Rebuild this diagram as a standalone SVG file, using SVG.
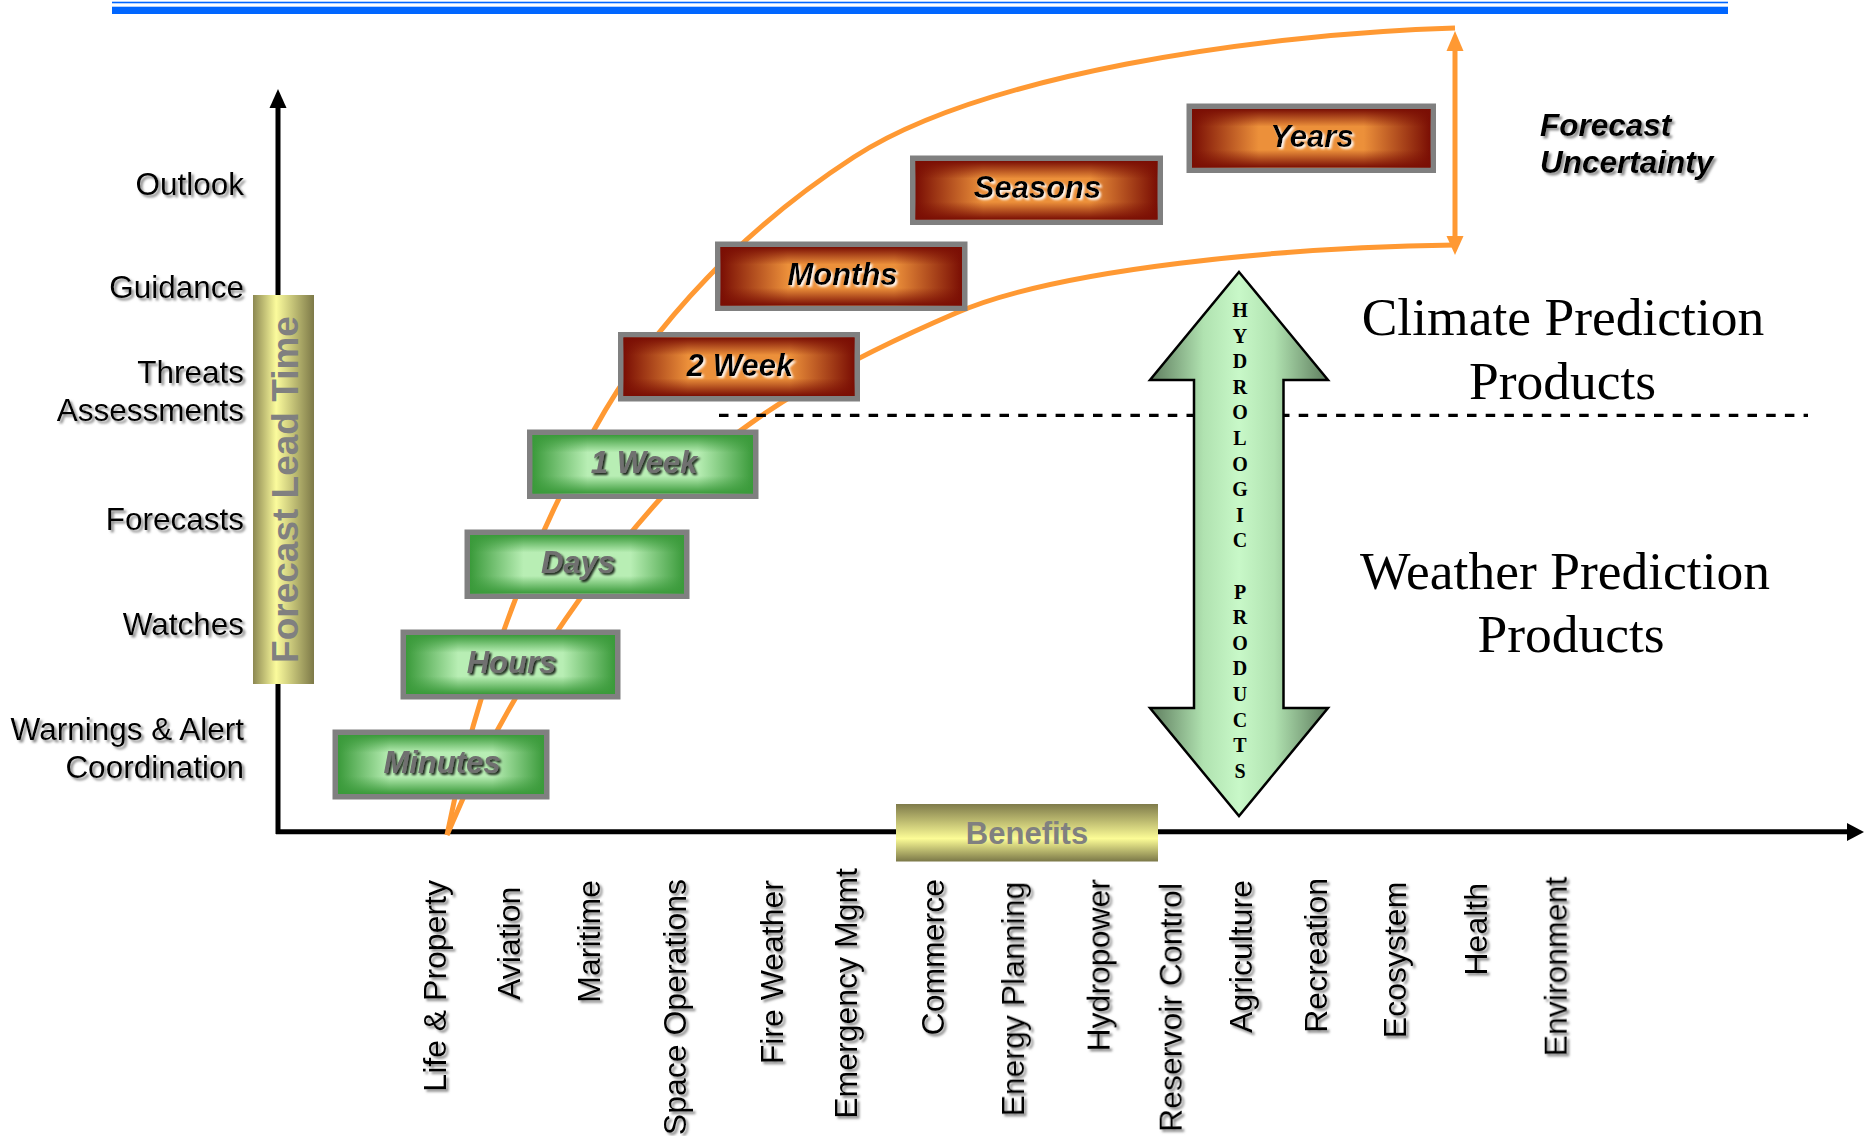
<svg xmlns="http://www.w3.org/2000/svg" width="1864" height="1136" viewBox="0 0 1864 1136">
<defs>
<style>
.lbl{font-family:"Liberation Sans",Arial,sans-serif;font-size:31.5px;fill:#000;text-anchor:end}
.xl{font-family:"Liberation Sans",Arial,sans-serif;font-size:32px;fill:#000;text-anchor:end}
.bt{font-family:"Liberation Sans",Arial,sans-serif;font-size:31px;font-weight:bold;font-style:italic;text-anchor:middle}
.gt{fill:#6f6f6f}
.ot{fill:#000}
.frame{fill:#808080}
.curve{fill:none;stroke:#ff9933;stroke-width:5}
.ser{font-family:"Liberation Serif","Times New Roman",serif;font-size:53.5px;fill:#000;text-anchor:middle}
.hyd{font-family:"Liberation Serif","Times New Roman",serif;font-size:20px;font-weight:bold;fill:#000;text-anchor:middle}
.fu{font-family:"Liberation Sans",Arial,sans-serif;font-size:31.5px;font-weight:bold;font-style:italic;fill:#000}
</style>
<linearGradient id="gH" x1="0" y1="0" x2="1" y2="0">
<stop offset="0" stop-color="#3a9a3a"/><stop offset="0.25" stop-color="#b8eeb4"/><stop offset="0.75" stop-color="#b8eeb4"/><stop offset="1" stop-color="#3a9a3a"/>
</linearGradient>
<linearGradient id="gV" x1="0" y1="0" x2="0" y2="1">
<stop offset="0" stop-color="#3a9a3a" stop-opacity="1"/><stop offset="0.3" stop-color="#3a9a3a" stop-opacity="0"/><stop offset="0.7" stop-color="#3a9a3a" stop-opacity="0"/><stop offset="1" stop-color="#3a9a3a" stop-opacity="1"/>
</linearGradient>
<linearGradient id="oH" x1="0" y1="0" x2="1" y2="0">
<stop offset="0" stop-color="#7a0e04"/><stop offset="0.28" stop-color="#ec903a"/><stop offset="0.72" stop-color="#ec903a"/><stop offset="1" stop-color="#7a0e04"/>
</linearGradient>
<linearGradient id="oV" x1="0" y1="0" x2="0" y2="1">
<stop offset="0" stop-color="#7a0e04" stop-opacity="1"/><stop offset="0.3" stop-color="#7a0e04" stop-opacity="0"/><stop offset="0.7" stop-color="#7a0e04" stop-opacity="0"/><stop offset="1" stop-color="#7a0e04" stop-opacity="1"/>
</linearGradient>
<linearGradient id="yBar" x1="0" y1="0" x2="1" y2="0">
<stop offset="0" stop-color="#8c8852"/><stop offset="0.38" stop-color="#fbfb9c"/><stop offset="1" stop-color="#7d7948"/>
</linearGradient>
<linearGradient id="bBar" x1="0" y1="0" x2="0" y2="1">
<stop offset="0" stop-color="#7f7b4b"/><stop offset="0.6" stop-color="#fcfc96"/><stop offset="1" stop-color="#7b7848"/>
</linearGradient>
<linearGradient id="hyG" x1="0" y1="0" x2="1" y2="0">
<stop offset="0" stop-color="#5e7c5e"/><stop offset="0.3" stop-color="#b0e2b0"/><stop offset="0.5" stop-color="#c8f8c8"/><stop offset="0.7" stop-color="#b0e2b0"/><stop offset="1" stop-color="#5e7c5e"/>
</linearGradient>
<filter id="shGray" x="-5%" y="-5%" width="110%" height="110%">
<feDropShadow dx="2.5" dy="2.5" stdDeviation="1.2" flood-color="#808080" flood-opacity="0.9"/>
</filter>
<filter id="shDark" x="-10%" y="-20%" width="120%" height="140%">
<feDropShadow dx="2" dy="2" stdDeviation="1" flood-color="#000" flood-opacity="0.85"/>
</filter>
<filter id="shLight" x="-10%" y="-20%" width="120%" height="140%">
<feDropShadow dx="2" dy="2" stdDeviation="1.2" flood-color="#fff" flood-opacity="0.95"/>
</filter>
</defs>
<rect x="0" y="0" width="1864" height="1136" fill="#fff"/>

<g id="header-rule">
<rect x="112" y="1.7" width="1616" height="1.6" fill="#0066ff"/>
<rect x="112" y="6.7" width="1616" height="7.3" fill="#0066ff"/>
</g>

<g id="connectors">
<line x1="278" y1="834" x2="278" y2="104" stroke="#000" stroke-width="5"/>
<polygon points="278,89 269.5,108 286.5,108" fill="#000"/>
<line x1="276" y1="831.8" x2="1850" y2="831.8" stroke="#000" stroke-width="5"/>
<polygon points="1864,832 1847,823 1847,841" fill="#000"/>
<path class="curve" d="M447,835 C474,700 520,565 594,430 C654,320.5 749,225 854,157 C980,75 1255,34 1455,28"/>
<path class="curve" d="M447,835 C497,715 573,596 660,499 C750,409 858,355 956,313 C1057,269 1285,247 1455,245"/>
<line x1="1455" y1="46" x2="1455" y2="240" stroke="#ff9933" stroke-width="5"/>
<polygon points="1455,31 1446.5,51 1463.5,51" fill="#ff9933"/>
<polygon points="1455,255 1446.5,236 1463.5,236" fill="#ff9933"/>
<line x1="719" y1="415.3" x2="1808" y2="415.3" stroke="#000" stroke-width="3.2" stroke-dasharray="9.5 9.2"/>
</g>

<g id="minutes">
<rect class="frame" x="332.5" y="729.5" width="217" height="70"/>
<rect x="338" y="735" width="206" height="59" fill="url(#gH)"/>
<rect x="338" y="735" width="206" height="59" fill="url(#gV)"/>
<text class="bt gt" x="442" y="773" filter="url(#shDark)">Minutes</text>
</g>
<g id="hours">
<rect class="frame" x="400.5" y="629.5" width="220" height="70"/>
<rect x="406" y="635" width="209" height="59" fill="url(#gH)"/>
<rect x="406" y="635" width="209" height="59" fill="url(#gV)"/>
<text class="bt gt" x="511.5" y="673" filter="url(#shDark)">Hours</text>
</g>
<g id="days">
<rect class="frame" x="464.5" y="529.5" width="225" height="69.5"/>
<rect x="470" y="535" width="214" height="58.5" fill="url(#gH)"/>
<rect x="470" y="535" width="214" height="58.5" fill="url(#gV)"/>
<text class="bt gt" x="578" y="573" filter="url(#shDark)">Days</text>
</g>
<g id="week1">
<rect class="frame" x="527" y="429.5" width="231.5" height="69.5"/>
<rect x="532.5" y="435" width="220.5" height="58.5" fill="url(#gH)"/>
<rect x="532.5" y="435" width="220.5" height="58.5" fill="url(#gV)"/>
<text class="bt gt" x="644" y="473" filter="url(#shDark)">1 Week</text>
</g>
<g id="week2">
<rect class="frame" x="618" y="332" width="242" height="69.5"/>
<rect x="623.5" y="337.5" width="231" height="58.5" fill="url(#oH)"/>
<rect x="623.5" y="337.5" width="231" height="58.5" fill="url(#oV)"/>
<text class="bt ot" x="740" y="375.5" filter="url(#shLight)">2 Week</text>
</g>
<g id="months">
<rect class="frame" x="715" y="241.5" width="252.5" height="69.5"/>
<rect x="720.5" y="247" width="241.5" height="58.5" fill="url(#oH)"/>
<rect x="720.5" y="247" width="241.5" height="58.5" fill="url(#oV)"/>
<text class="bt ot" x="842.5" y="285" filter="url(#shLight)">Months</text>
</g>
<g id="seasons">
<rect class="frame" x="910" y="155.5" width="253" height="69.5"/>
<rect x="915.5" y="161" width="242" height="58.5" fill="url(#oH)"/>
<rect x="915.5" y="161" width="242" height="58.5" fill="url(#oV)"/>
<text class="bt ot" x="1037.5" y="198" filter="url(#shLight)">Seasons</text>
</g>
<g id="years">
<rect class="frame" x="1186.5" y="103.5" width="249.5" height="69.5"/>
<rect x="1192" y="109" width="238.5" height="58.5" fill="url(#oH)"/>
<rect x="1192" y="109" width="238.5" height="58.5" fill="url(#oV)"/>
<text class="bt ot" x="1312" y="146.5" filter="url(#shLight)">Years</text>
</g>

<g id="lead-time-bar">
<rect x="253" y="295" width="61" height="389" fill="url(#yBar)"/>
<text transform="translate(298,489.5) rotate(-90)" text-anchor="middle" font-family="'Liberation Sans',Arial,sans-serif" font-size="37" font-weight="bold" fill="#808080">Forecast Lead Time</text>
</g>

<g id="benefits-bar">
<rect x="896" y="804" width="262" height="57.5" fill="url(#bBar)"/>
<text x="1027" y="844" text-anchor="middle" font-family="'Liberation Sans',Arial,sans-serif" font-size="31" font-weight="bold" fill="#808080">Benefits</text>
</g>

<g id="hydrologic-arrow">
<path d="M1239,272 L1328,380 L1283.5,380 L1283.5,708 L1328,708 L1239,816 L1150,708 L1194,708 L1194,380 L1150,380 Z" fill="url(#hyG)" stroke="#000" stroke-width="2.5" stroke-linejoin="miter"/>
<text class="hyd" x="1240" y="317">H</text>
<text class="hyd" x="1240" y="342.6">Y</text>
<text class="hyd" x="1240" y="368.2">D</text>
<text class="hyd" x="1240" y="393.8">R</text>
<text class="hyd" x="1240" y="419.4">O</text>
<text class="hyd" x="1240" y="445">L</text>
<text class="hyd" x="1240" y="470.6">O</text>
<text class="hyd" x="1240" y="496.2">G</text>
<text class="hyd" x="1240" y="521.8">I</text>
<text class="hyd" x="1240" y="547.4">C</text>
<text class="hyd" x="1240" y="598.6">P</text>
<text class="hyd" x="1240" y="624.2">R</text>
<text class="hyd" x="1240" y="649.8">O</text>
<text class="hyd" x="1240" y="675.4">D</text>
<text class="hyd" x="1240" y="701">U</text>
<text class="hyd" x="1240" y="726.6">C</text>
<text class="hyd" x="1240" y="752.2">T</text>
<text class="hyd" x="1240" y="777.8">S</text>
</g>

<g id="y-labels" filter="url(#shGray)">
<text class="lbl" x="244" y="195">Outlook</text>
<text class="lbl" x="244" y="298">Guidance</text>
<text class="lbl" x="244" y="383">Threats</text>
<text class="lbl" x="244" y="421">Assessments</text>
<text class="lbl" x="244" y="530">Forecasts</text>
<text class="lbl" x="244" y="635">Watches</text>
<text class="lbl" x="244" y="740">Warnings &amp; Alert</text>
<text class="lbl" x="244" y="778">Coordination</text>
</g>

<g id="forecast-uncertainty" filter="url(#shGray)">
<text class="fu" x="1540" y="136">Forecast</text>
<text class="fu" x="1540" y="173">Uncertainty</text>
</g>

<g id="climate-label">
<text class="ser" x="1563" y="335">Climate Prediction</text>
<text class="ser" x="1562.5" y="399">Products</text>
</g>
<g id="weather-label">
<text class="ser" x="1565" y="589">Weather Prediction</text>
<text class="ser" x="1571" y="652">Products</text>
</g>

<g id="x-labels" filter="url(#shGray)">
<text class="xl" transform="translate(446,880) rotate(-90)">Life &amp; Property</text>
<text class="xl" transform="translate(520,886.7) rotate(-90)">Aviation</text>
<text class="xl" transform="translate(600,880) rotate(-90)">Maritime</text>
<text class="xl" transform="translate(686,879) rotate(-90)">Space Operations</text>
<text class="xl" transform="translate(783,880) rotate(-90)">Fire Weather</text>
<text class="xl" transform="translate(857,868) rotate(-90)">Emergency Mgmt</text>
<text class="xl" transform="translate(944,879) rotate(-90)">Commerce</text>
<text class="xl" transform="translate(1024,881.7) rotate(-90)">Energy Planning</text>
<text class="xl" transform="translate(1109.6,879) rotate(-90)">Hydropower</text>
<text class="xl" transform="translate(1181.7,883) rotate(-90)">Reservoir Control</text>
<text class="xl" transform="translate(1251.7,880) rotate(-90)">Agriculture</text>
<text class="xl" transform="translate(1326.7,878) rotate(-90)">Recreation</text>
<text class="xl" transform="translate(1406,881.7) rotate(-90)">Ecosystem</text>
<text class="xl" transform="translate(1486.7,883) rotate(-90)">Health</text>
<text class="xl" transform="translate(1566.7,876.7) rotate(-90)">Environment</text>
</g>
</svg>
